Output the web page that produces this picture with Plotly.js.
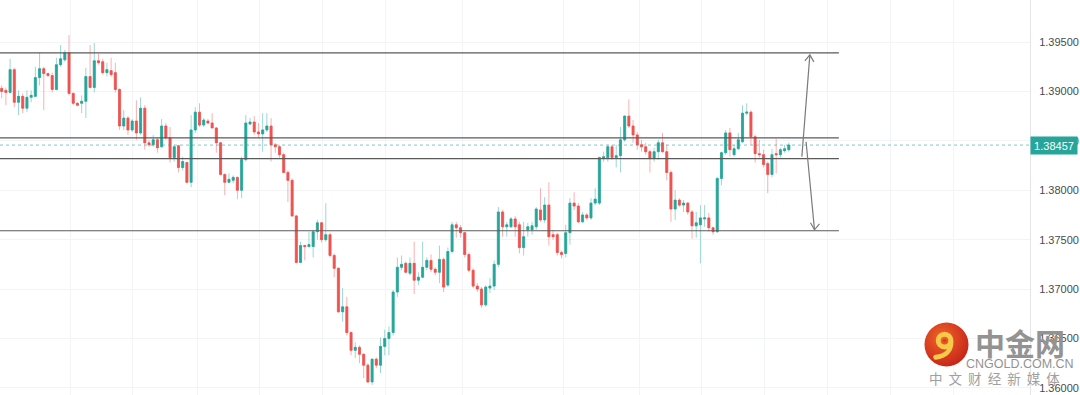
<!DOCTYPE html>
<html>
<head>
<meta charset="utf-8">
<script src="https://cdn.plot.ly/plotly-3.0.1.min.js"></script>
<style>
html,body{margin:0;padding:0;background:#ffffff;}
#chart{width:1080px;height:395px;}
</style>
</head>
<body>
<div id="chart"></div>
<script>
// ---- data ----
const openP = [
1.3903,1.3901,1.3899,1.3922,1.3889,1.3895,1.3883,1.3894,1.3895,1.3914,
1.3923,1.3918,1.3916,1.3902,1.3927,1.3932,1.3939,1.3898,1.3888,1.3888,
1.3890,1.3915,1.3904,1.3931,1.3930,1.3919,1.3921,1.3919,1.3902,1.3865,
1.3873,1.3861,1.3870,1.3858,1.3883,1.3848,1.3846,1.3851,1.3844,1.3865,
1.3853,1.3833,1.3845,1.3823,1.3828,1.3808,1.3861,1.3879,1.3866,1.3870,
1.3868,1.3863,1.3848,1.3816,1.3808,1.3810,1.3813,1.3800,1.3831,1.3867,
1.3869,1.3859,1.3857,1.3861,1.3865,1.3846,1.3844,1.3836,1.3818,1.3810,
1.3774,1.3727,1.3744,1.3743,1.3743,1.3758,1.3767,1.3750,1.3755,1.3734,
1.3721,1.3677,1.3682,1.3656,1.3638,1.3641,1.3634,1.3623,1.3606,1.3629,
1.3623,1.3642,1.3650,1.3656,1.3697,1.3722,1.3726,1.3716,1.3726,1.3709,
1.3712,1.3722,1.3729,1.3720,1.3717,1.3730,1.3704,1.3738,1.3765,1.3762,
1.3757,1.3735,1.3719,1.3703,1.3700,1.3684,1.3701,1.3703,1.3725,1.3778,
1.3763,1.3763,1.3771,1.3765,1.3742,1.3760,1.3760,1.3763,1.3780,1.3770,
1.3785,1.3755,1.3755,1.3737,1.3736,1.3757,1.3787,1.3784,1.3768,1.3775,
1.3772,1.3787,1.3787,1.3832,1.3833,1.3844,1.3833,1.3835,1.3851,1.3875,
1.3865,1.3856,1.3846,1.3844,1.3839,1.3832,1.3839,1.3848,1.3839,1.3818,
1.3781,1.3790,1.3785,1.3787,1.3778,1.3764,1.3765,1.3771,1.3772,1.3762,
1.3758,1.3812,1.3838,1.3858,1.3836,1.3842,1.3849,1.3878,1.3879,1.3854,
1.3837,1.3836,1.3827,1.3816,1.3837,1.3836,1.3840,1.3841];
const highP = [
1.3906,1.3904,1.3933,1.3924,1.3901,1.3898,1.3901,1.3901,1.3925,1.3939,
1.3925,1.3919,1.3919,1.3934,1.3947,1.3942,1.3957,1.3899,1.3889,1.3896,
1.3924,1.3947,1.3949,1.3938,1.3933,1.3929,1.3934,1.3929,1.3903,1.3881,
1.3875,1.3872,1.3891,1.3894,1.3886,1.3851,1.3856,1.3853,1.3872,1.3868,
1.3864,1.3846,1.3846,1.3834,1.3829,1.3876,1.3884,1.3888,1.3873,1.3872,
1.3878,1.3864,1.3849,1.3817,1.3817,1.3815,1.3814,1.3834,1.3876,1.3873,
1.3875,1.3868,1.3878,1.3878,1.3873,1.3848,1.3846,1.3838,1.3820,1.3812,
1.3775,1.3748,1.3745,1.3758,1.3760,1.3770,1.3768,1.3787,1.3757,1.3736,
1.3722,1.3701,1.3692,1.3657,1.3646,1.3643,1.3635,1.3625,1.3630,1.3631,
1.3651,1.3659,1.3662,1.3699,1.3732,1.3734,1.3728,1.3732,1.3748,1.3717,
1.3748,1.3732,1.3735,1.3722,1.3744,1.3732,1.3742,1.3768,1.3768,1.3765,
1.3758,1.3737,1.3721,1.3706,1.3702,1.3704,1.3711,1.3729,1.3783,1.3780,
1.3768,1.3773,1.3774,1.3768,1.3768,1.3767,1.3768,1.3783,1.3802,1.3793,
1.3808,1.3760,1.3757,1.3739,1.3765,1.3792,1.3798,1.3787,1.3778,1.3777,
1.3792,1.3802,1.3834,1.3839,1.3846,1.3846,1.3846,1.3864,1.3876,1.3892,
1.3871,1.3859,1.3851,1.3848,1.3841,1.3843,1.3851,1.3858,1.3846,1.3820,
1.3800,1.3792,1.3790,1.3788,1.3780,1.3778,1.3785,1.3785,1.3777,1.3763,
1.3813,1.3839,1.3861,1.3863,1.3846,1.3858,1.3886,1.3888,1.3881,1.3856,
1.3851,1.3841,1.3829,1.3842,1.3852,1.3843,1.3846,1.3848];
const lowP = [
1.3893,1.3886,1.3898,1.3884,1.3876,1.3878,1.3879,1.3889,1.3894,1.3906,
1.3881,1.3915,1.3899,1.3901,1.3925,1.3930,1.3896,1.3886,1.3885,1.3878,
1.3873,1.3903,1.3899,1.3927,1.3917,1.3915,1.3915,1.3899,1.3861,1.3861,
1.3856,1.3859,1.3851,1.3856,1.3841,1.3844,1.3844,1.3838,1.3843,1.3851,
1.3828,1.3829,1.3818,1.3820,1.3807,1.3803,1.3858,1.3864,1.3864,1.3867,
1.3863,1.3838,1.3815,1.3795,1.3807,1.3807,1.3791,1.3792,1.3829,1.3866,
1.3856,1.3853,1.3839,1.3859,1.3829,1.3838,1.3833,1.3817,1.3788,1.3773,
1.3726,1.3726,1.3729,1.3742,1.3732,1.3750,1.3747,1.3748,1.3732,1.3712,
1.3676,1.3667,1.3653,1.3633,1.3630,1.3625,1.3610,1.3605,1.3603,1.3620,
1.3615,1.3633,1.3633,1.3653,1.3692,1.3719,1.3716,1.3714,1.3695,1.3704,
1.3711,1.3719,1.3717,1.3714,1.3706,1.3697,1.3702,1.3736,1.3752,1.3752,
1.3732,1.3717,1.3701,1.3697,1.3681,1.3682,1.3696,1.3699,1.3722,1.3753,
1.3753,1.3762,1.3753,1.3736,1.3734,1.3753,1.3755,1.3760,1.3768,1.3767,
1.3744,1.3750,1.3734,1.3731,1.3732,1.3745,1.3780,1.3767,1.3767,1.3770,
1.3770,1.3785,1.3785,1.3829,1.3829,1.3831,1.3823,1.3818,1.3849,1.3863,
1.3848,1.3841,1.3839,1.3836,1.3818,1.3829,1.3831,1.3838,1.3810,1.3768,
1.3770,1.3783,1.3778,1.3775,1.3751,1.3752,1.3726,1.3763,1.3758,1.3755,
1.3757,1.3805,1.3836,1.3834,1.3834,1.3841,1.3848,1.3876,1.3846,1.3828,
1.3833,1.3823,1.3797,1.3813,1.3817,1.3833,1.3838,1.3839];
const closeP = [
1.3900,1.3899,1.3922,1.3889,1.3895,1.3883,1.3894,1.3896,1.3914,1.3923,
1.3918,1.3916,1.3902,1.3927,1.3933,1.3939,1.3898,1.3888,1.3886,1.3890,
1.3915,1.3904,1.3931,1.3929,1.3919,1.3922,1.3917,1.3902,1.3865,1.3873,
1.3861,1.3870,1.3858,1.3883,1.3848,1.3846,1.3851,1.3843,1.3865,1.3853,
1.3833,1.3844,1.3823,1.3829,1.3808,1.3861,1.3879,1.3866,1.3871,1.3868,
1.3863,1.3848,1.3816,1.3808,1.3811,1.3813,1.3800,1.3831,1.3868,1.3869,
1.3859,1.3857,1.3861,1.3865,1.3846,1.3844,1.3836,1.3818,1.3810,1.3774,
1.3727,1.3744,1.3743,1.3745,1.3758,1.3767,1.3750,1.3755,1.3734,1.3721,
1.3677,1.3682,1.3656,1.3638,1.3641,1.3634,1.3623,1.3606,1.3629,1.3623,
1.3642,1.3650,1.3656,1.3697,1.3722,1.3725,1.3717,1.3726,1.3709,1.3712,
1.3722,1.3729,1.3720,1.3717,1.3730,1.3702,1.3738,1.3765,1.3762,1.3757,
1.3735,1.3719,1.3703,1.3700,1.3684,1.3702,1.3703,1.3725,1.3778,1.3763,
1.3765,1.3771,1.3763,1.3742,1.3753,1.3763,1.3764,1.3781,1.3770,1.3785,
1.3753,1.3753,1.3737,1.3735,1.3757,1.3787,1.3784,1.3768,1.3775,1.3772,
1.3787,1.3791,1.3833,1.3834,1.3844,1.3833,1.3835,1.3851,1.3875,1.3865,
1.3856,1.3846,1.3844,1.3839,1.3832,1.3839,1.3848,1.3839,1.3818,1.3781,
1.3790,1.3785,1.3787,1.3778,1.3764,1.3767,1.3772,1.3772,1.3762,1.3758,
1.3812,1.3838,1.3858,1.3841,1.3842,1.3851,1.3878,1.3879,1.3854,1.3837,
1.3836,1.3826,1.3816,1.3836,1.3836,1.3841,1.3842,1.38457];

// drawn levels
const levels = [1.3939, 1.3853, 1.3832, 1.3759];
const lastPrice = 1.38457;
const lastPriceText = "1.38457";
const arrowUp = {from: [190.1, 1.3834], to: [192.0, 1.3937]};
const arrowDown = {from: [191.1, 1.3849], to: [193.1, 1.3760]};
const levelEnd = 198.9;

// ---- build ----
const idx = openP.map((_, i) => i);
const bodyHigh = openP.map((o, i) => Math.max(o, closeP[i]));
const bodyLow = openP.map((o, i) => Math.min(o, closeP[i]));

const UP = '#26a69a', DN = '#ef5350';
const UPw = 'rgba(38,166,154,0.45)', DNw = 'rgba(239,83,80,0.45)';

const wicks = {
  type: 'candlestick', x: idx, open: openP, high: highP, low: lowP, close: closeP,
  increasing: {line: {color: UPw, width: 1}, fillcolor: UPw},
  decreasing: {line: {color: DNw, width: 1}, fillcolor: DNw},
  whiskerwidth: 0, hoverinfo: 'skip', showlegend: false
};
const bodies = {
  type: 'candlestick', x: idx, open: openP, high: bodyHigh, low: bodyLow, close: closeP,
  increasing: {line: {color: UP, width: 0.5}, fillcolor: UP},
  decreasing: {line: {color: DN, width: 0.5}, fillcolor: DN},
  whiskerwidth: 0, hoverinfo: 'skip', showlegend: false
};

const X0 = -0.4, X1 = 244.3;
const PLOT_W = 1030;
const pxToIdx = p => X0 + (p / PLOT_W) * (X1 - X0);
const gridPx = [70,132,197,259,322,385,462,563,639,701,764,827,890,953];

const shapes = [];
levels.forEach(v => shapes.push({type:'line', xref:'x', yref:'y', x0:X0, x1:levelEnd, y0:v, y1:v,
  line:{color:'#5a5a5a', width:1.2}}));
shapes.push({type:'line', xref:'x', yref:'y', x0:X0, x1:X1, y0:lastPrice, y1:lastPrice,
  line:{color:'rgba(38,166,154,0.6)', width:1, dash:'dot'}});
[arrowUp, arrowDown].forEach(a => shapes.push({type:'line', xref:'x', yref:'y',
  x0:a.from[0], y0:a.from[1], x1:a.to[0], y1:a.to[1], line:{color:'#7a7a7a', width:1.2}}));
shapes.push({type:'path', xref:'x', yref:'y', xsizemode:'pixel', ysizemode:'pixel',
  xanchor:arrowUp.to[0], yanchor:arrowUp.to[1], path:'M-5,-6L0,0L4,-7', line:{color:'#7a7a7a', width:1.2}});
shapes.push({type:'path', xref:'x', yref:'y', xsizemode:'pixel', ysizemode:'pixel',
  xanchor:arrowDown.to[0], yanchor:arrowDown.to[1], path:'M-4,7L0,0L5,6', line:{color:'#7a7a7a', width:1.2}});

const logoSvg = "<svg xmlns='http://www.w3.org/2000/svg' viewBox='0 0 46 46'>" +
  "<defs><radialGradient id='g' cx='40%' cy='35%' r='70%'><stop offset='0' stop-color='#f0652a'/><stop offset='1' stop-color='#c42218'/></radialGradient></defs>" +
  "<circle cx='23' cy='23' r='22.5' fill='url(#g)'/>" +
  "<circle cx='21' cy='19' r='6.5' fill='none' stroke='#f7c94a' stroke-width='5'/>" +
  "<path d='M27.5,20 C28,29 22,35 12,36' fill='none' stroke='#f7c94a' stroke-width='5' stroke-linecap='round'/>" +
  "<circle cx='21' cy='19' r='2' fill='#d8401f'/>" +
  "</svg>";
const logoUri = 'data:image/svg+xml;charset=utf-8,' + encodeURIComponent(logoSvg);

const H = 395;
const layout = {
  width: 1080, height: 395,
  margin: {l: 0, r: 50, t: 0, b: 0, pad: 0},
  paper_bgcolor: '#ffffff', plot_bgcolor: '#ffffff',
  showlegend: false,
  boxmode: 'overlay',
  xaxis: {
    type: 'linear', range: [X0, X1], rangeslider: {visible: false},
    showticklabels: false, ticks: '', tickmode: 'array', tickvals: gridPx.map(pxToIdx),
    showgrid: true, gridcolor: '#f3f4f7', gridwidth: 1, zeroline: false, showline: false, fixedrange: true
  },
  yaxis: {
    side: 'right', range: [1.35928, 1.39925], tick0: 1.36, dtick: 0.005, tickformat: '.5f',
    showgrid: true, gridcolor: '#f3f4f7', gridwidth: 1, zeroline: false,
    showline: true, linecolor: '#e3e5ea', linewidth: 1, ticks: '', ticklabelstandoff: 6,
    tickfont: {family: 'Liberation Sans, Arial, sans-serif', size: 11, color: '#4a4a4a'}, fixedrange: true
  },
  shapes: shapes,
  images: [{source: logoUri, xref: 'paper', yref: 'paper', x: 924/PLOT_W, y: 1 - 322/H,
    sizex: 45/PLOT_W, sizey: 45/H, xanchor: 'left', yanchor: 'top', sizing: 'stretch', layer: 'above'}],
  annotations: [
    {xref:'paper', yref:'y', x:1, y:lastPrice, xanchor:'left', yanchor:'middle', showarrow:false,
     text: lastPriceText, bgcolor: UP, width: 40, height: 11, borderpad: 3,
     font:{family:'Liberation Sans, Arial, sans-serif', size:11, color:'#ffffff'}},
    {xref:'paper', yref:'paper', x:1020/PLOT_W, y:1-342/H, xanchor:'center', yanchor:'middle', showarrow:false,
     text:'<b>中金网</b>', font:{family:'Noto Sans CJK SC', size:30, color:'#939393'}},
    {xref:'paper', yref:'paper', x:1020/PLOT_W, y:1-363.5/H, xanchor:'center', yanchor:'middle', showarrow:false,
     text:'CNGOLD.COM.CN', font:{family:'Liberation Sans, Arial, sans-serif', size:12.5, color:'#939393'}},
    {xref:'paper', yref:'paper', x:994.5/PLOT_W, y:1-377.5/H, xanchor:'center', yanchor:'middle', showarrow:false,
     text:'中  文  财  经  新  媒  体', font:{family:'Noto Sans CJK SC', size:13.5, color:'#a0a0a0'}}
  ]
};

Plotly.newPlot('chart', [wicks, bodies], layout, {staticPlot: true, displayModeBar: false});
</script>
</body>
</html>
